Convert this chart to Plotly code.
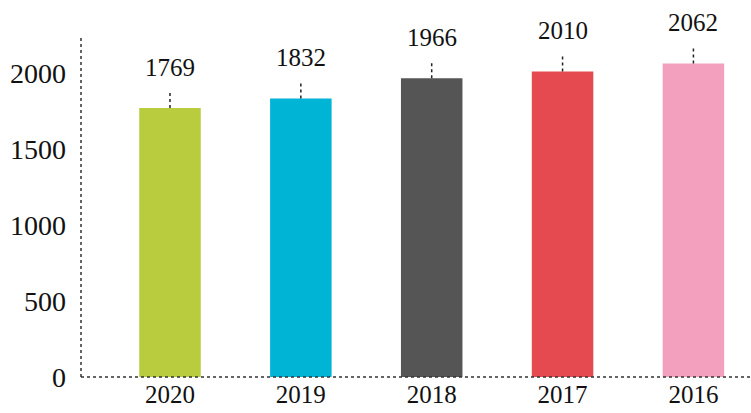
import plotly.graph_objects as go

years = ["2020", "2019", "2018", "2017", "2016"]
values = [1769, 1832, 1966, 2010, 2062]
colors = ["#B9CC3D", "#00B4D5", "#555555", "#E44A4F", "#F2A0BD"]

FONT = "Liberation Serif"

fig = go.Figure()

fig.add_trace(go.Bar(x=years, y=values, marker=dict(color=colors, line=dict(width=0)),
                     width=0.47, showlegend=False, hoverinfo="x+y"))

# dotted leader lines above each bar
lx, ly = [], []
for yr, v in zip(years, values):
    lx += [yr, yr, None]
    ly += [v, v + 100, None]
fig.add_trace(go.Scatter(x=lx, y=ly, mode="lines", line=dict(color="#222222", width=1.5, dash="dot"),
                         showlegend=False, hoverinfo="skip"))

for i, v in enumerate(values):
    fig.add_annotation(x=i, y=v, text=str(v), showarrow=False, yshift=41,
                       font=dict(family=FONT, size=25, color="#111111"))

# dotted axis lines
fig.add_shape(type="line", xref="paper", yref="paper", x0=0, x1=0, y0=0, y1=1,
              line=dict(color="#333333", width=1.5, dash="dot"))
fig.add_shape(type="line", xref="paper", yref="paper", x0=0, x1=1, y0=0, y1=0,
              line=dict(color="#333333", width=1.5, dash="dot"))

fig.update_layout(width=751, height=413, margin=dict(l=81, r=0, t=38, b=36),
                  plot_bgcolor="white", paper_bgcolor="white",
                  font=dict(family=FONT, color="#111111"))
fig.update_xaxes(type="category", range=[-0.68, 4.44], showgrid=False, showline=False, ticks="",
                 tickfont=dict(size=25, family=FONT), automargin=False)
fig.update_yaxes(range=[0, 2230], showgrid=False, zeroline=False, showline=False,
                 tickvals=[0, 500, 1000, 1500, 2000], ticks="", ticklabelstandoff=14,
                 tickfont=dict(size=28, family=FONT), automargin=False)

fig.write_html("out.html", config={"displayModeBar": False},
               post_script="document.body.style.margin='0';")
